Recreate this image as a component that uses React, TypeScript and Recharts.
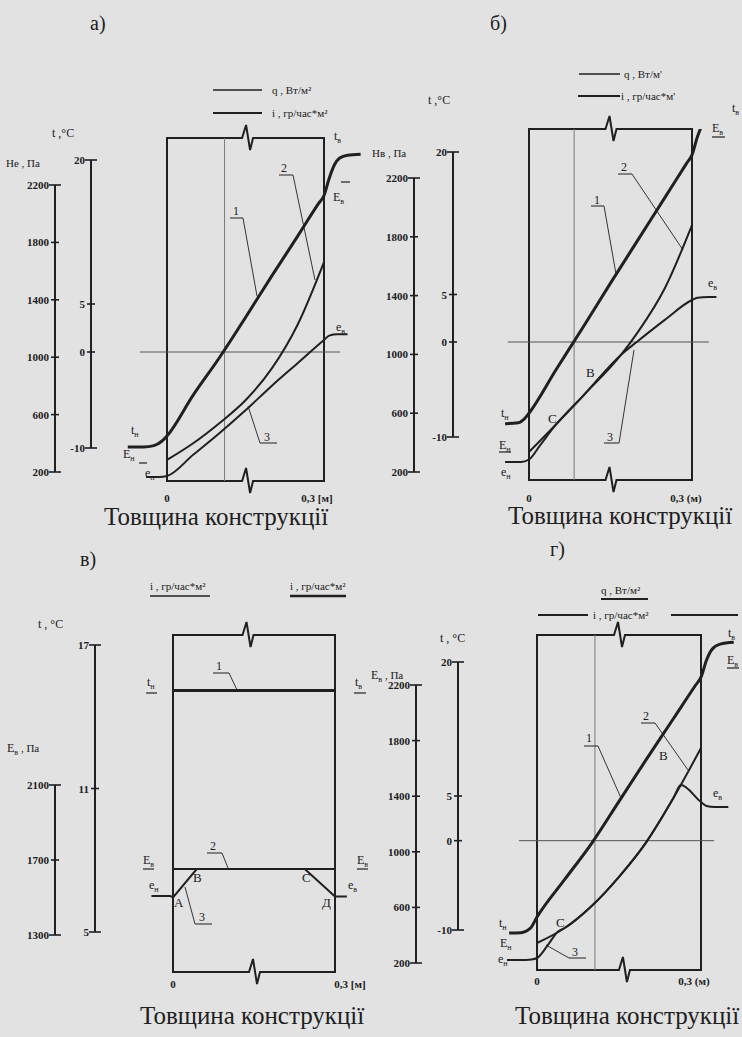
import React from 'react';
import { LineChart, Line, XAxis, YAxis, ReferenceLine, ReferenceArea } from 'recharts';

const INK = '#202020';
const PAPER = '#e2e2e2';
const SERIF = '"Liberation Serif", "DejaVu Serif", serif';

// x — товщина, м; t — °C; E, e — Па
// а)
const tTicksA = [20, 5, 0, -10];
const pTicksA = [2200, 1800, 1400, 1000, 600, 200];
const tempA = [
  { x: -0.075, v: -9.9 }, { x: -0.045, v: -9.9 }, { x: -0.025, v: -9.75 }, { x: -0.01, v: -9.3 },
  { x: 0, v: -8.75 }, { x: 0.05, v: -4.5 }, { x: 0.1, v: -0.6 }, { x: 0.15, v: 3.6 }, { x: 0.2, v: 7.9 },
  { x: 0.25, v: 12.1 }, { x: 0.29, v: 15.5 }, { x: 0.3, v: 16.3 },
  { x: 0.31, v: 18.1 }, { x: 0.32, v: 19.5 }, { x: 0.33, v: 20.2 }, { x: 0.345, v: 20.5 }, { x: 0.37, v: 20.6 },
];
const satA = [
  { x: 0, v: 284 }, { x: 0.05, v: 400 }, { x: 0.1, v: 540 }, { x: 0.15, v: 700 },
  { x: 0.2, v: 920 }, { x: 0.25, v: 1230 }, { x: 0.3, v: 1663 },
];
const vapA = [
  { x: -0.04, v: 165 }, { x: -0.015, v: 165 }, { x: 0, v: 172 }, { x: 0.05, v: 320 }, { x: 0.1, v: 470 },
  { x: 0.15, v: 630 }, { x: 0.2, v: 800 }, { x: 0.25, v: 960 }, { x: 0.3, v: 1120 },
  { x: 0.31, v: 1150 }, { x: 0.325, v: 1160 }, { x: 0.345, v: 1160 },
];

// б)
const tTicksB = [20, 5, 0, -10];
const pTicksB = [2200, 1800, 1400, 1000, 600, 200];
const tempB = [
  { x: -0.044, v: -8.6 }, { x: -0.02, v: -8.5 }, { x: -0.007, v: -8.0 }, { x: 0, v: -7.5 },
  { x: 0.05, v: -2.9 }, { x: 0.1, v: 1.6 }, { x: 0.15, v: 6.2 }, { x: 0.2, v: 10.7 },
  { x: 0.25, v: 15.2 }, { x: 0.29, v: 18.8 }, { x: 0.3, v: 19.7 },
  { x: 0.31, v: 21.6 }, { x: 0.32, v: 23.0 }, { x: 0.335, v: 23.8 }, { x: 0.35, v: 23.9 },
];
const satB = [
  { x: 0, v: 336 }, { x: 0.05, v: 525 }, { x: 0.1, v: 720 }, { x: 0.17, v: 1000 },
  { x: 0.2, v: 1150 }, { x: 0.25, v: 1450 }, { x: 0.3, v: 1880 },
];
const vapB = [
  { x: -0.044, v: 268 }, { x: -0.015, v: 268 }, { x: 0, v: 285 }, { x: 0.02, v: 380 }, { x: 0.048, v: 515 },
  { x: 0.1, v: 720 }, { x: 0.17, v: 1000 }, { x: 0.2, v: 1090 }, { x: 0.25, v: 1235 }, { x: 0.3, v: 1370 },
  { x: 0.31, v: 1385 }, { x: 0.33, v: 1390 }, { x: 0.345, v: 1390 },
];

// в)
const tTicksV = [17, 11, 5];
const pTicksV = [2100, 1700, 1300];
const tempV = [{ x: 0, v: 15.1 }, { x: 0.1, v: 15.1 }, { x: 0.2, v: 15.1 }, { x: 0.3, v: 15.1 }];
const satV = [{ x: 0, v: 1652 }, { x: 0.1, v: 1652 }, { x: 0.2, v: 1652 }, { x: 0.3, v: 1652 }];
const vapV = [
  { x: -0.04, v: 1508 }, { x: -0.005, v: 1508 }, { x: 0, v: 1500 }, { x: 0.044, v: 1652 },
  { x: 0.1, v: 1652 }, { x: 0.2, v: 1652 }, { x: 0.244, v: 1652 }, { x: 0.3, v: 1505 }, { x: 0.322, v: 1505 },
];

// г)
const tTicksG = [20, 5, 0, -10];
const pTicksG = [2200, 1800, 1400, 1000, 600, 200];
const tempG = [
  { x: -0.051, v: -10.34 }, { x: -0.03, v: -10.3 }, { x: -0.012, v: -9.8 }, { x: 0, v: -8.55 },
  { x: 0.05, v: -4.4 }, { x: 0.1, v: -0.3 }, { x: 0.15, v: 4.4 }, { x: 0.2, v: 9.1 },
  { x: 0.25, v: 13.7 }, { x: 0.29, v: 17.4 }, { x: 0.3, v: 18.3 },
  { x: 0.31, v: 20.2 }, { x: 0.32, v: 21.4 }, { x: 0.335, v: 22.0 }, { x: 0.36, v: 22.2 },
];
const satG = [
  { x: 0, v: 344 }, { x: 0.05, v: 450 }, { x: 0.1, v: 610 }, { x: 0.15, v: 820 },
  { x: 0.2, v: 1070 }, { x: 0.25, v: 1390 }, { x: 0.3, v: 1747 },
];
const vapG = [
  { x: -0.055, v: 222 }, { x: -0.03, v: 222 }, { x: -0.01, v: 226 }, { x: 0, v: 236 }, { x: 0.02, v: 330 },
  { x: 0.038, v: 425 }, { x: 0.05, v: 450 }, { x: 0.1, v: 610 }, { x: 0.15, v: 820 }, { x: 0.2, v: 1070 },
  { x: 0.25, v: 1390 }, { x: 0.263, v: 1480 }, { x: 0.3, v: 1358 }, { x: 0.31, v: 1330 },
  { x: 0.325, v: 1322 }, { x: 0.35, v: 1322 },
];

// розміщення панелей (px сторінки)
const layA = {
  div: [0, 0, 371, 540], plot: [91, 362, 138, 481], box: [167, 324], axP: 55, pW: 50,
  tMap: [20, 160, -10, 448], pMap: [2200, 185, 200, 472],
  zero: [-0.052, 0.331], vert: 0.11, zig: [0.51, 0.51], xEnd: '0,3 [м]', xDx: -7, xDy: 13,
};
const layB = {
  div: [371, 0, 371, 540], plot: [453, 722, 129, 480], box: [529, 692], axP: 414, pW: 40,
  tMap: [20, 152, -10, 437], pMap: [2200, 178, 200, 472],
  zero: [-0.039, 0.331], vert: 0.083, zig: [0.5, 0.5], xEnd: '0,3 (м)', xDx: -6, xDy: 14,
};
const layV = {
  div: [0, 500, 371, 537], plot: [95, 368, 635, 972], box: [173, 335], axP: 55, pW: 50,
  tMap: [17, 645, 5, 932], pMap: [2100, 785, 1300, 935],
  zero: null, vert: null, zig: [0.46, 0.5], xEnd: '0,3 [м]', xDx: 15, xDy: 8,
};
const layG = {
  div: [371, 500, 371, 537], plot: [458, 740, 635, 970], box: [537, 701], axP: 416, pW: 42,
  tMap: [20, 662, -10, 930], pMap: [2200, 685, 200, 963],
  zero: [-0.033, 0.324], vert: 0.106, zig: [0.5, 0.53], xEnd: '0,3 (м)', xDx: -7, xDy: 7,
};

function spanDomain(v1: number, p1: number, v2: number, p2: number, a: number, b: number): [number, number] {
  const k = (p2 - p1) / (v2 - v1);
  const va = v1 + (a - p1) / k;
  const vb = v1 + (b - p1) / k;
  return va < vb ? [va, vb] : [vb, va];
}

const yTick = (ends: number[]) => (props: any) => {
  const { x, y, payload } = props;
  const ax = x + 7;
  const cap = ends.includes(payload.value) ? 6 : 4;
  return (
    <g>
      <line x1={ax - cap} x2={ax + cap} y1={y} y2={y} stroke={INK} strokeWidth={1.6} />
      <text x={x + 1} y={y} dy={4} textAnchor="end" fontSize={11} fontWeight="bold" fontFamily={SERIF} fill={INK}>
        {String(payload.value)}
      </text>
    </g>
  );
};

const xTick = (end: string, dx: number, dy: number) => (props: any) => {
  const { x, y, payload } = props;
  const last = payload.value > 0.1;
  return (
    <text x={x + (last ? dx : 0)} y={y + dy} textAnchor="middle" fontSize={11} fontWeight="bold" fontFamily={SERIF} fill={INK}>
      {last ? end : '0'}
    </text>
  );
};

const boxShape = (zig: number[]) => (props: any) => {
  const { x, y, width: w, height: h } = props;
  const zt = x + w * zig[0];
  const zb = x + w * zig[1];
  const b = y + h;
  const d =
    `M${x},${y} L${zt - 5},${y} L${zt - 1},${y - 13} L${zt + 3},${y + 12} L${zt + 6},${y} L${x + w},${y} ` +
    `L${x + w},${b} L${zb + 6},${b} L${zb + 3},${b + 12} L${zb - 1},${b - 13} L${zb - 5},${b} L${x},${b} Z`;
  return <path d={d} fill="none" stroke={INK} strokeWidth={2} />;
};

// id осей: "a" (°C) ставиться біля поля, "b" (Па) — зовні
function Panel({ lay, temp, sat, vap, tTicks, pTicks, smooth }: any) {
  const [dl, dt, dw, dh] = lay.div;
  const [pl, pr, pt, pb] = lay.plot;
  const xDom = spanDomain(0, lay.box[0], 0.3, lay.box[1], pl, pr);
  const tDom = spanDomain(lay.tMap[0], lay.tMap[1], lay.tMap[2], lay.tMap[3], pt, pb);
  const pDom = spanDomain(lay.pMap[0], lay.pMap[1], lay.pMap[2], lay.pMap[3], pt, pb);
  const margin = { top: pt - dt, bottom: dt + dh - pb - 30, left: lay.axP - lay.pW - dl, right: dl + dw - pr };
  const tDash = `0 ${lay.tMap[1] - pt} ${lay.tMap[3] - lay.tMap[1]} 3000`;
  const pDash = `0 ${lay.pMap[1] - pt} ${lay.pMap[3] - lay.pMap[1]} 3000`;
  const kind = smooth ? 'monotone' : 'linear';
  return (
    <div style={{ position: 'absolute', left: dl, top: dt }}>
      <LineChart width={dw} height={dh} margin={margin}>
        <XAxis dataKey="x" type="number" domain={xDom} allowDataOverflow ticks={[0, 0.3]} interval={0}
          axisLine={false} tickLine={false} height={30} tick={xTick(lay.xEnd, lay.xDx, lay.xDy)} />
        <YAxis yAxisId="a" orientation="left" type="number" width={pl - lay.axP} domain={tDom} allowDataOverflow
          ticks={tTicks} interval={0} tickLine={false} tickSize={4} tickMargin={3}
          axisLine={{ stroke: INK, strokeWidth: 2, strokeDasharray: tDash }}
          tick={yTick([tTicks[0], tTicks[tTicks.length - 1]])} />
        <YAxis yAxisId="b" orientation="left" type="number" width={lay.pW} domain={pDom} allowDataOverflow
          ticks={pTicks} interval={0} tickLine={false} tickSize={4} tickMargin={3}
          axisLine={{ stroke: INK, strokeWidth: 2, strokeDasharray: pDash }}
          tick={yTick([pTicks[0], pTicks[pTicks.length - 1]])} />
        <ReferenceArea yAxisId="a" x1={0} x2={0.3} ifOverflow="visible" shape={boxShape(lay.zig)} />
        {lay.zero && (
          <ReferenceLine yAxisId="a" segment={[{ x: lay.zero[0], y: 0 }, { x: lay.zero[1], y: 0 }]}
            stroke="#555" strokeWidth={1} />
        )}
        {lay.vert != null && <ReferenceLine yAxisId="a" x={lay.vert} stroke="#7a7a7a" strokeWidth={1} />}
        <Line yAxisId="b" data={vap} dataKey="v" type={kind} stroke={INK} strokeWidth={2} dot={false} isAnimationActive={false} />
        <Line yAxisId="b" data={sat} dataKey="v" type={kind} stroke={INK} strokeWidth={2} dot={false} isAnimationActive={false} />
        <Line yAxisId="a" data={temp} dataKey="v" type={kind} stroke={INK} strokeWidth={3} dot={false} isAnimationActive={false} />
      </LineChart>
    </div>
  );
}

// підписи
const notes: [number, number, string, number][] = [
  [90, 30, 'а)', 20], [272, 94, 'q , Вт/м²', 11], [272, 117, 'i , гр/час*м²', 11], [52, 137, 't ,°C', 12],
  [6, 167, 'Не , Па', 11], [233, 215, '1', 12], [281, 172, '2', 12], [264, 441, '3', 12],
  [104, 525, 'Товщина конструкції', 25],
  [490, 30, 'б)', 20], [624, 78, "q , Вт/м'", 11], [621, 100, "i , гр/час*м'", 11], [428, 104, 't ,°C', 12],
  [372, 157, 'Нв , Па', 11], [594, 204, '1', 12], [621, 171, '2', 12], [607, 441, '3', 12],
  [548, 423, 'C', 13], [586, 377, 'B', 13], [508, 524, 'Товщина конструкції', 25],
  [80, 566, 'в)', 20], [150, 590, 'i , гр/час*м²', 11], [290, 590, 'i , гр/час*м²', 11], [38, 628, 't , °C', 12],
  [216, 670, '1', 12], [210, 850, '2', 12], [199, 921, '3', 12],
  [174, 907, 'A', 13], [193, 882, 'B', 13], [302, 882, 'C', 13], [322, 907, 'Д', 13],
  [140, 1024, 'Товщина конструкції', 25],
  [550, 556, 'г)', 20], [601, 594, 'q , Вт/м²', 11], [593, 619, 'i , гр/час*м²', 11], [440, 642, 't , °C', 12],
  [586, 742, '1', 12], [643, 720, '2', 12], [572, 956, '3', 12], [556, 927, 'C', 13], [659, 760, 'B', 13],
  [515, 1024, 'Товщина конструкції', 25],
];
const subs: [number, number, string, string, string][] = [
  [334, 140, 't', 'в', ''], [333, 201, 'E', 'в', ''], [336, 331, 'e', 'в', ''],
  [131, 434, 't', 'н', ''], [123, 458, 'E', 'н', ''], [145, 477, 'e', 'н', ''],
  [732, 112, 't', 'в', ''], [712, 132, 'E', 'в', ''], [708, 287, 'e', 'в', ''],
  [501, 417, 't', 'н', ''], [499, 449, 'E', 'н', ''], [501, 476, 'e', 'н', ''],
  [7, 752, 'E', 'в', ' , Па'], [147, 686, 't', 'н', ''], [355, 686, 't', 'в', ''],
  [143, 864, 'E', 'в', ''], [357, 864, 'E', 'в', ''], [149, 889, 'e', 'н', ''], [348, 889, 'e', 'в', ''],
  [371, 679, 'E', 'в', ' , Па'], [728, 637, 't', 'в', ''], [727, 664, 'E', 'в', ''], [713, 797, 'e', 'в', ''],
  [499, 927, 't', 'н', ''], [500, 947, 'E', 'н', ''], [498, 963, 'e', 'н', ''],
];
const strokes: number[][] = [
  [213, 90, 262, 90, 1.5], [213, 113, 262, 113, 2.2], [341, 182, 350, 182, 1.2], [139, 463, 147, 463, 1.2],
  [230, 218, 243, 218, 1], [243, 218, 257, 296, 0.9], [279, 175, 293, 175, 1], [293, 175, 315, 280, 0.9],
  [260, 443, 277, 443, 1], [260, 443, 248, 406, 0.9],
  [579, 74, 620, 74, 1.5], [578, 96, 620, 96, 2.2], [712, 137, 725, 137, 1.2], [499, 452, 511, 452, 1.2],
  [591, 206, 604, 206, 1], [604, 206, 616, 274, 0.9], [618, 174, 632, 174, 1], [632, 174, 683, 250, 0.9],
  [604, 443, 619, 443, 1], [619, 443, 634, 350, 0.9],
  [150, 596, 210, 596, 1.5], [290, 596, 346, 596, 2.5], [146, 693, 157, 693, 1.2], [354, 693, 366, 693, 1.2],
  [213, 673, 229, 673, 1], [229, 673, 237, 690, 0.9], [207, 853, 222, 853, 1], [222, 853, 228, 868, 0.9],
  [143, 869, 154, 869, 1.2], [357, 869, 368, 869, 1.2], [195, 924, 212, 924, 1], [195, 924, 185, 887, 0.9],
  [601, 599, 648, 599, 2], [538, 615, 588, 615, 2], [671, 615, 738, 615, 2], [727, 668, 739, 668, 1.2],
  [584, 746, 598, 746, 1], [598, 746, 621, 798, 0.9], [641, 723, 655, 723, 1], [655, 723, 688, 770, 0.9],
  [569, 958, 586, 958, 1], [569, 958, 546, 945, 0.9],
];

export default function App() {
  return (
    <div style={{ position: 'absolute', left: 0, top: 0, width: 742, height: 1037, background: PAPER, overflow: 'hidden' }}>
      <Panel lay={layA} temp={tempA} sat={satA} vap={vapA} tTicks={tTicksA} pTicks={pTicksA} smooth />
      <Panel lay={layB} temp={tempB} sat={satB} vap={vapB} tTicks={tTicksB} pTicks={pTicksB} smooth />
      <Panel lay={layV} temp={tempV} sat={satV} vap={vapV} tTicks={tTicksV} pTicks={pTicksV} smooth={false} />
      <Panel lay={layG} temp={tempG} sat={satG} vap={vapG} tTicks={tTicksG} pTicks={pTicksG} smooth />
      <svg width={742} height={1037} style={{ position: 'absolute', left: 0, top: 0, pointerEvents: 'none' }}>
        {strokes.map(([x1, y1, x2, y2, w], i) => (
          <line key={'s' + i} x1={x1} y1={y1} x2={x2} y2={y2} stroke={INK} strokeWidth={w} />
        ))}
        {notes.map(([x, y, t, size], i) => (
          <text key={'n' + i} x={x} y={y} fontSize={size} fontFamily={SERIF} fill={INK}>{t}</text>
        ))}
        {subs.map(([x, y, b, s, after], i) => (
          <text key={'u' + i} x={x} y={y} fontSize={12} fontFamily={SERIF} fill={INK}>
            {b}
            <tspan fontSize={8} dy={3}>{s}</tspan>
            {after && <tspan fontSize={11} dy={-3}>{after}</tspan>}
          </text>
        ))}
      </svg>
    </div>
  );
}
